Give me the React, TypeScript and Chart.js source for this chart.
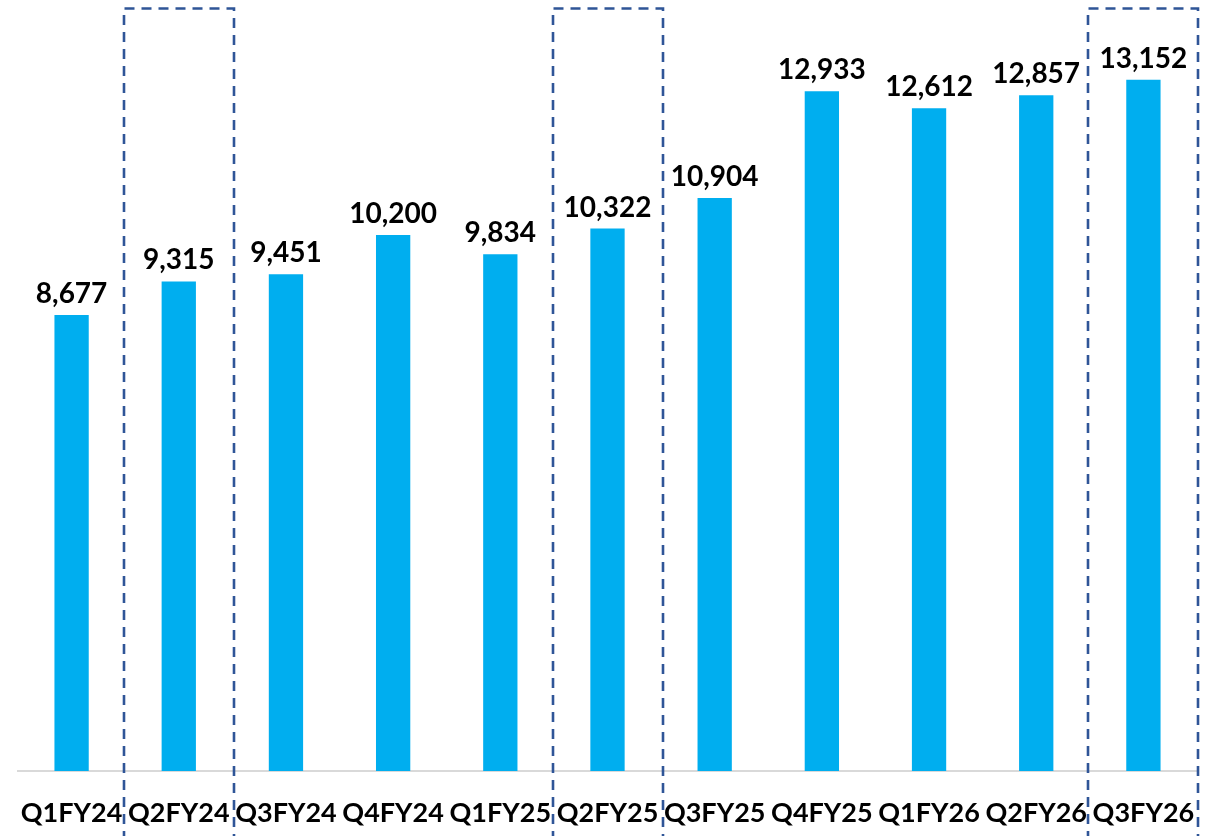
import React, { useEffect, useRef } from "react";
import { Chart, registerables } from "chart.js";

Chart.register(...registerables);

const categories = [
  "Q1FY24", "Q2FY24", "Q3FY24", "Q4FY24", "Q1FY25", "Q2FY25",
  "Q3FY25", "Q4FY25", "Q1FY26", "Q2FY26", "Q3FY26",
];
const values = [8677, 9315, 9451, 10200, 9834, 10322, 10904, 12933, 12612, 12857, 13152];
const highlighted = ["Q2FY24", "Q2FY25", "Q3FY26"];

const FONT = "Lato, 'Noto Sans', sans-serif";

const valueLabelPlugin = {
  id: "valueLabels",
  afterDatasetsDraw(chart: any) {
    const ctx = chart.ctx;
    const meta = chart.getDatasetMeta(0);
    ctx.save();
    ctx.font = `bold 28px ${FONT}`;
    ctx.fillStyle = "#000000";
    ctx.textAlign = "center";
    ctx.textBaseline = "alphabetic";
    meta.data.forEach((bar: any, i: number) => {
      const v = chart.data.datasets[0].data[i] as number;
      ctx.fillText(v.toLocaleString("en-US"), bar.x, bar.y - 12);
    });
    ctx.restore();
  },
};

const highlightPlugin = {
  id: "highlightBoxes",
  afterDraw(chart: any) {
    const ctx = chart.ctx;
    const xs = chart.scales.x;
    ctx.save();
    ctx.strokeStyle = "#2F5597";
    ctx.lineWidth = 2.6;
    ctx.setLineDash([10, 7]);
    highlighted.forEach((c) => {
      const idx = categories.indexOf(c);
      const cx = xs.getPixelForValue(idx);
      const left = Math.round(cx - 55);
      const right = Math.round(cx + 55);
      const top = 8.5;
      const bottom = chart.height + 5;
      ctx.beginPath();
      ctx.moveTo(left, bottom);
      ctx.lineTo(left, top);
      ctx.lineTo(right, top);
      ctx.lineTo(right, bottom);
      ctx.stroke();
    });
    ctx.restore();
  },
};

export default function App() {
  const ref = useRef<HTMLCanvasElement>(null);
  useEffect(() => {
    if (!ref.current) return;
    const chart = new Chart(ref.current, {
      type: "bar",
      data: {
        labels: categories,
        datasets: [
          {
            data: values,
            backgroundColor: "#00AEEF",
            barPercentage: 0.32,
            categoryPercentage: 1,
          },
        ],
      },
      options: {
        animation: false,
        responsive: false,
        maintainAspectRatio: false,
        layout: { padding: { top: 30, left: 18, right: 12, bottom: 0 } },
        plugins: {
          legend: { display: false },
          tooltip: { enabled: false },
        },
        scales: {
          x: {
            afterFit: (s: any) => {
              s.height = 65;
              s.paddingLeft = 0;
              s.paddingRight = 0;
            },
            grid: { display: false, drawTicks: false },
            border: { display: true, color: "#D9D9D9", width: 2 },
            ticks: {
              autoSkip: false,
              maxRotation: 0,
              minRotation: 0,
              padding: 26,
              color: "#000000",
              font: { family: FONT, size: 27, weight: "bold" },
            },
          },
          y: {
            display: false,
            min: 0,
            max: 14100,
          },
        },
      },
      plugins: [valueLabelPlugin, highlightPlugin],
    });
    return () => chart.destroy();
  }, []);
  return (
    <div style={{ position: "fixed", left: 0, top: 0, width: 1209, height: 836, background: "#fff" }}>
      <canvas ref={ref} width={1209} height={836} style={{ width: 1209, height: 836 }} />
    </div>
  );
}
